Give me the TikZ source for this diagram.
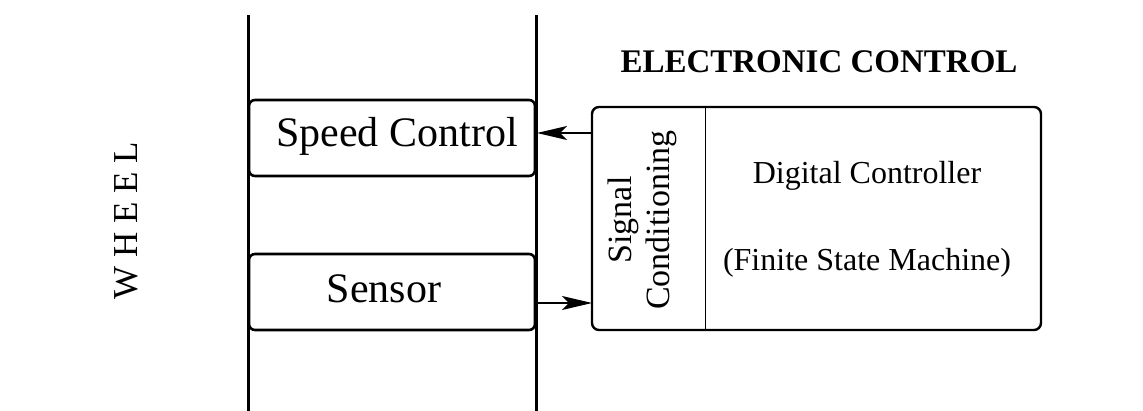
\documentclass[tikz,border=0pt]{standalone}
\usepackage{fontspec}
\setmainfont{Liberation Serif}
\usetikzlibrary{arrows.meta}
\begin{document}
\begin{tikzpicture}[x=1pt,y=-1pt,
  rail/.style={line width=3pt},
  unitbox/.style={draw,line width=2.6pt,rounded corners=6pt},
  ctrlbox/.style={draw,line width=2.4pt,rounded corners=7pt},
  sig/.style={line width=1.2pt,-{Stealth[length=30pt,width=14pt,inset=7pt]}},
  bigtxt/.style={font=\fontsize{42}{50}\selectfont,anchor=base},
  midtxt/.style={font=\fontsize{32}{38}\selectfont,anchor=base}]
\useasboundingbox (0,0) rectangle (1143,411);

% wheel rails
\coordinate (r1t) at (248,15);
\coordinate (r1b) at (248,411);
\coordinate (r2t) at (536,15);
\coordinate (r2b) at (536,411);
\draw[rail] (r1t) -- (r1b);
\draw[rail] (r2t) -- (r2b);

\node[font=\fontsize{35}{40}\selectfont,rotate=90] (wheel) at (126,221) {W H E E L};

% actuator and sensor units on the wheel
\draw[unitbox] (249,100) rectangle (535,176);
\draw[unitbox] (249,254) rectangle (535,330);
\coordinate (spdR) at (537,133);
\coordinate (senR) at (537,303);
\node[bigtxt] (spd) at (397,147) {Speed Control};
\node[bigtxt] (sen) at (384,303) {Sensor};

% electronic control block
\node[font=\bfseries\fontsize{33}{38}\selectfont,anchor=base] (ec) at (819,73) {ELECTRONIC CONTROL};
\draw[ctrlbox] (592,107) rectangle (1041,330);
\draw[line width=1pt] (705,107) -- (705,330);
\coordinate (ecL1) at (592,133);
\coordinate (ecL2) at (592,303);
\node[font=\fontsize{34}{38}\selectfont,rotate=90,align=center] (sc) at (642,220) {Signal\\Conditioning};
\node[midtxt] (dc) at (867,184) {Digital Controller};
\node[midtxt] (fsm) at (867,271) {(Finite State Machine)};

% signal paths
\draw[sig] (ecL1) -- (spdR);
\draw[sig] (senR) -- (ecL2);
\end{tikzpicture}
\end{document}
